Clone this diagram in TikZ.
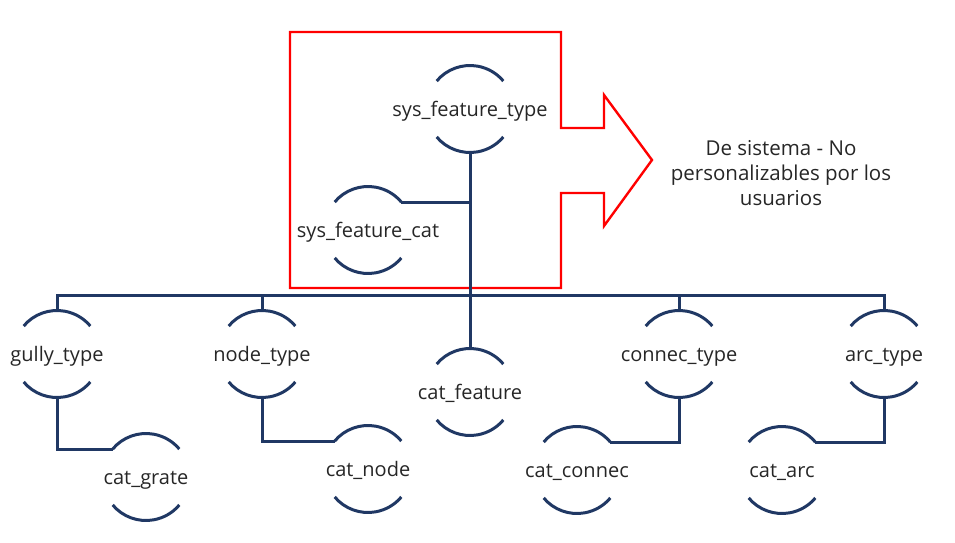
\documentclass[tikz,border=0pt]{standalone}
\usepackage{fontspec}
\setmainfont{Open Sans}
\usetikzlibrary{calc}
\definecolor{navy}{HTML}{203864}
\definecolor{txt}{HTML}{262626}
\tikzset{
  ln/.style={draw=navy, line width=3pt},
  entity/.style={circle, minimum size=87pt, inner sep=0pt, outer sep=0pt,
    font=\fontsize{20}{24}\selectfont, text=txt},
  redline/.style={draw=red, line width=2.4pt, line join=miter},
  annot/.style={align=center, font=\fontsize{20.5}{25}\selectfont, text=txt}
}
\begin{document}
\begin{tikzpicture}[x=1pt,y=1pt]
\useasboundingbox (0,0) rectangle (955,-543);
% red frame with arrow
\draw[redline] (290,-32) -- (561,-32) -- (561,-128) -- (604,-128) -- (604,-95)
  -- (652,-160) -- (604,-226) -- (604,-193) -- (561,-193) -- (561,-288)
  -- (290,-288) -- cycle;
\node[annot] (note) at (781,-173) {De sistema - No\\personalizables por los\\usuarios};
% entities
\foreach \n/\x/\y/\t in {
  sft/470/109/sys\_feature\_type,
  sfc/368/230/sys\_feature\_cat,
  gully/57/354/gully\_type,
  nodet/262/354/node\_type,
  catf/470/392/cat\_feature,
  connt/679/354/connec\_type,
  arct/884/354/arc\_type,
  catg/146/477/cat\_grate,
  catn/368/469/cat\_node,
  catc/577/470/cat\_connec,
  cata/782/470/cat\_arc}{
  \node[entity] (\n) at (\x,-\y) {\makebox[0pt]{\raisebox{-7pt}[0pt][0pt]{\t}}};
  \draw[ln] (\n.140) arc (140:40:43.5pt);
  \draw[ln] (\n.220) arc (220:320:43.5pt);
}
\coordinate (bus) at (470,-295);
% connectors
\draw[ln] (sft.south) -- (catf.north);
\draw[ln] (sfc.40) -- (sfc.40 -| sft.south);
\draw[ln] (gully.north) -- (gully.north |- bus) -- (arct.north |- bus) -- (arct.north);
\draw[ln] (nodet.north) -- (nodet.north |- bus);
\draw[ln] (connt.north) -- (connt.north |- bus);
\draw[ln] (gully.south) |- (catg.140);
\draw[ln] (nodet.south) |- (catn.140);
\draw[ln] (connt.south) |- (catc.40);
\draw[ln] (arct.south) |- (cata.40);
\end{tikzpicture}
\end{document}
